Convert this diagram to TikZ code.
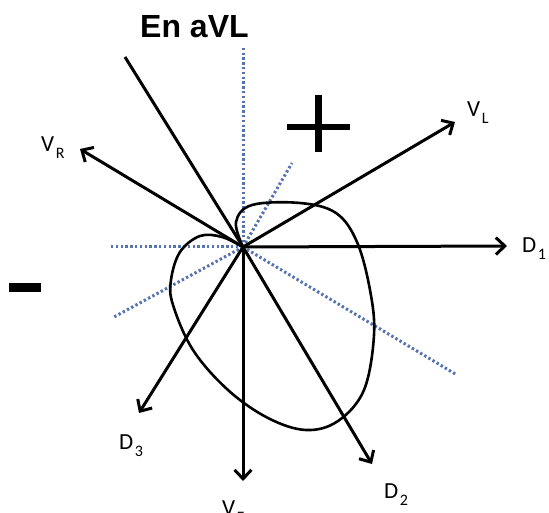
\documentclass[tikz,border=0pt]{standalone}
\usepackage{fontspec}
\setmainfont{Carlito}
\newfontfamily\titlefont{Liberation Sans}
\usetikzlibrary{arrows.meta}
\definecolor{dotblue}{RGB}{85,115,175}
\newcommand{\lbl}[2]{#1\kern1.5pt\raisebox{-7pt}{\fontsize{16}{16}\selectfont #2}}
\begin{document}
\begin{tikzpicture}[x=1pt,y=-1pt,
  vec/.style={line width=3pt, -{Straight Barb[length=9pt,width=17pt]}},
  blackline/.style={line width=3pt},
  dots/.style={dotblue, line width=3pt, dash pattern=on 2.4pt off 2.4pt},
  lab/.style={font=\fontsize{23}{23}\selectfont, inner sep=0pt, anchor=base west},
  sign/.style={fill=black, draw=none}]
\useasboundingbox (0,0) rectangle (549,513);
\coordinate (O) at (243,247);
% dotted reference lines
\coordinate (dU) at (243,47);
\coordinate (dL) at (110,247);
\coordinate (dUR) at (292,163);
\coordinate (dDL) at (114,317);
\coordinate (dDR) at (457,375);
\draw[dots] (O) -- (dU);
\draw[dots] (O) -- (dL);
\draw[dots] (O) -- (dUR);
\draw[dots] (O) -- (dDL);
\draw[dots] (O) -- (dDR);
% black line without arrow
\coordinate (P) at (125,57);
\draw[blackline] (O) -- (P);
% vector loop
\draw[blackline, line width=2.6pt] plot[smooth, tension=0.6] coordinates {
 (243,247) (236,222) (252,205) (300,203) (336,213) (357,242) (370,290)
 (374,335) (364,390) (338,421) (306,430) (268,418) (228,390) (193,350)
 (173,305) (171,280) (180,252) (200,236) (222,237) (243,247)};
% lead axes
\coordinate (VR) at (80,149);
\coordinate (VL) at (455,122);
\coordinate (D1) at (507,246);
\coordinate (D3) at (139,413);
\coordinate (VF) at (243,481);
\coordinate (D2) at (372,464);
\draw[vec] (O) -- (VR);
\draw[vec] (O) -- (VL);
\draw[vec] (O) -- (D1);
\draw[vec] (O) -- (D3);
\draw[vec] (O) -- (VF);
\draw[vec] (O) -- (D2);
% labels
\node[lab] (lVR) at (41,152) {\lbl{V}{R}};
\node[lab] (lVL) at (467,117) {\lbl{V}{L}};
\node[lab] (lD1) at (522,253) {\lbl{D}{1}};
\node[lab] (lD3) at (119,449) {\lbl{D}{3}};
\node[lab] (lVF) at (222,515) {\lbl{V}{F}};
\node[lab] (lD2) at (384,498) {\lbl{D}{2}};
% title
\node[inner sep=0pt, anchor=base west, font=\titlefont\bfseries\fontsize{32}{32}\selectfont] (title) at (140,38) {En aVL};
% plus and minus signs
\fill[sign] (287,124) rectangle (350,130.5);
\fill[sign] (315,95) rectangle (321.5,152);
\fill[sign] (9,283) rectangle (41,292);
\end{tikzpicture}
\end{document}
